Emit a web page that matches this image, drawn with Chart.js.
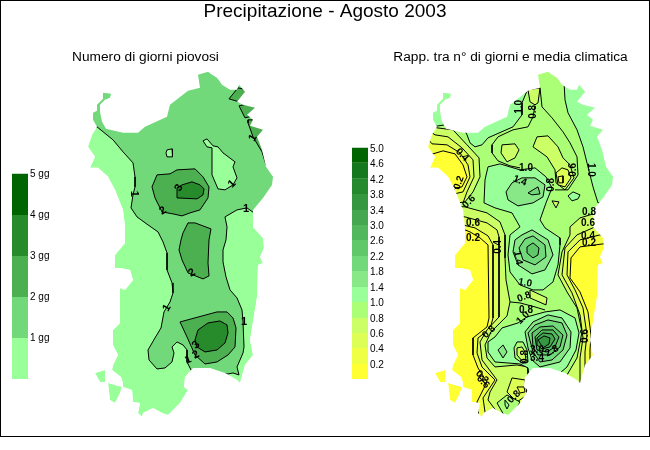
<!DOCTYPE html>
<html><head><meta charset="utf-8">
<style>html,body{margin:0;padding:0;background:#fff}
#w{position:relative;width:650px;height:450px;overflow:hidden}
canvas{position:absolute;left:0;top:0}
#f{position:absolute;left:0;top:0;width:648px;height:435px;border:1px solid #000;pointer-events:none}</style>
<script src="https://cdn.jsdelivr.net/npm/chart.js@4"></script></head>
<body><div id="w"><canvas id="c" width="650" height="450"></canvas><div id="f"></div></div>
<script>
const titleText = "Precipitazione - Agosto 2003";
const subtitleLeft = "Numero di giorni piovosi";
const subtitleRight = "Rapp. tra n\u00b0 di giorni e media climatica";

// Legends
const leftTicks = ["1 gg","2 gg","3 gg","4 gg","5 gg"];
const leftEdges = [379,338,297,256,215,174];
const leftColors = ["#99FF99","#72D97A","#4CAF50","#278B2C","#006400"];
const rightTicks = ["0.2","0.4","0.6","0.8","1.0","1.4","1.8","2.2","2.6","3.0","3.4","3.8","4.2","4.6","5.0"];
const rightEdges = [379,364,348,333,318,302,287,271,256,240,225,210,194,179,163,148];
const rightColors = ["#FFFF33","#EEFF44","#DDFF55","#CCFF66","#AAFF77","#99FF99","#88E888","#72D97A","#60C868","#52B85C","#45A850","#359840","#258A2D","#15781F","#006400"];

// Island outline (map units, left panel)
const coast = [198,75,208,72,212,75,217,78,222,85,230,90,237,90,239,85,245,92,237,102,243,105,255,108,247,115,253,120,250,126,263,130,257,137,262,150,266,167,273,177,272,185,263,198,253,210,253,227,263,238,264,248,260,257,263,263,258,265,257,297,250,340,253,355,245,365,240,383,237,380,225,373,210,368,193,368,185,377,184,387,188,390,180,403,168,415,162,413,153,408,143,413,142,417,138,413,140,403,133,402,132,390,123,387,123,383,121,377,112,370,113,365,118,355,113,345,113,330,120,323,120,288,125,290,133,280,130,270,120,268,115,268,115,255,125,243,125,227,123,210,115,190,108,177,98,168,90,168,95,157,88,147,92,135,97,127,93,120,93,113,97,111,97,105,103,99,103,93,111,94,110,98,105,100,100,105,100,112,102,122,106,129,123,133,138,133,145,127,167,117,170,105,188,91,200,88];
const isleA = [95,373,105,370,105,382,100,382];
const isleB = [108,383,122,387,120,393,115,403,110,400];

// Left panel contours
const leftL1 = [97,127,113,140,123,152,133,163,135,177,135,187,133,195,131,208,137,217,148,225,158,232,163,242,167,253,167,270,172,283,173,293,170,302,164,312,161,328,155,338,148,350,149,360,157,369,165,368,172,362,174,353,172,347,177,342,183,345,187,350,187,357,187,362,192,372,197,375,217,375,223,374,228,374,233,373,239,375,237,367,243,353,244,347,243,322,242,310,237,298,230,290,226,277,223,262,223,250,226,240,227,227,225,217,237,210,247,208,254,213,300,213,300,50,70,50,70,127,90,127];
const leftHole1 = [167,150,172,149,173,153,172,157,167,157,166,153];
const leftHole2 = [203,141,207,139,213,146,218,147,223,153,235,162,233,167,237,178,233,185,225,190,218,189,212,175,212,148,207,147];
const left2a = [157,175,170,174,177,170,195,169,203,177,209,187,208,198,200,210,190,213,182,216,173,214,162,212,155,198,152,187];
const left3a = [177,188,182,185,192,182,200,185,204,189,203,195,197,199,177,198];
const left2b = [188,223,195,223,211,229,209,240,208,263,209,276,203,279,188,273,182,260,179,250,181,240,183,233];
const left2c = [180,322,217,312,227,312,233,318,236,328,235,347,228,355,217,362,205,364,195,355,187,337];
const left3c = [195,340,198,330,208,323,220,321,227,325,228,333,225,343,217,350,205,352,197,347];
const leftNE1 = [238,88,229,99,239,102,247,90];
const leftNE2 = [239,106,245,118,258,115,257,102];
const leftNE3 = [248,123,253,137,262,152,266,165,280,165,280,120,248,120];
const leftLabelText = ["1","3","2","1","1","1","2","1","1","3","2","1"];
const leftLabelX = [134,179,163,253,232,246,192,167,244,196,196,188];
const leftLabelY = [194,188,211,138,184,209,273,308,322,345,355,360];
const leftLabelRot = [90,-60,-30,-60,-45,0,-30,-60,0,-45,-30,-20];

// Right panel contours
const r02 = [420,150,433,154,443,151,455,154,463,165,467,177,462,187,456,188,445,200,450,228,465,230,470,232,480,238,488,245,489,318,487,327,473,338,473,355,478,368,487,382,477,402,478,412,478,430,590,430,590,350,591,335,588,312,580,292,570,278,571,258,580,247,603,244,630,244,630,60,420,60];
const r04 = [420,130,432,144,447,145,460,153,468,165,470,177,463,192,450,195,450,222,475,228,488,236,493,245,493,318,490,329,478,338,477,353,482,367,495,380,483,398,485,412,485,430,585,430,585,352,587,335,583,308,575,290,567,275,568,252,580,240,600,235,630,235,630,60,420,60];
const r06 = [420,125,435,135,448,137,462,148,473,160,474,177,467,192,463,203,450,205,450,215,465,217,487,223,497,230,499,237,499,248,499,317,487,330,480,342,482,360,497,380,490,392,488,400,497,412,497,430,580,430,580,358,583,338,580,315,572,293,562,275,565,248,577,235,595,227,630,225,630,60,420,60];
const r08 = [420,120,437,128,453,130,467,145,479,158,480,177,473,192,465,202,450,204,450,206,465,207,487,213,500,222,505,235,505,258,506,280,510,302,507,316,491,332,485,345,487,358,495,367,517,365,528,367,528,385,567,385,567,375,577,358,582,332,577,308,567,292,558,275,562,252,570,235,570,227,580,218,600,212,630,212,630,60,420,60];
const r06p1 = [533,147,537,137,548,136,558,147,563,158,570,165,574,178,565,190,556,183,555,170,547,157];
const r04p1 = [556,173,562,168,568,170,571,178,565,187,558,185];
const r02p1 = [558,177,563,176,563,183,559,183];
const r06p2 = [502,145,515,144,519,150,515,158,507,162,501,153];
const r06p3 = [528,90,540,88,538,103,535,105,530,102];
const r06p4 = [530,290,547,298,546,305,530,298];
const r06p5 = [552,201,559,202,556,208];
const r10p1 = [568,196,573,192,580,195,578,199,572,201];
const r10ne = [564,82,565,100,568,113,577,130,583,147,588,167,593,187,598,203,640,203,640,60,564,60];
const r10nw = [527,91,522,103,522,115,513,127,488,138,482,145,475,147,470,143,467,135,462,125,445,125,432,127,425,127,425,60,527,60];
const r10c = [488,167,500,164,520,170,535,168,546,177,552,188,546,203,540,220,545,228,560,238,560,245,558,265,553,282,543,290,533,290,520,285,510,272,508,255,510,235,520,227,512,213,495,208,484,203,485,180];
const r14a = [506,192,512,183,522,178,535,178,545,185,543,197,533,203,518,206,508,200];
const r18a = [528,193,538,187,540,194,532,195];
const r14b = [532,230,548,240,553,255,545,270,532,274,518,265,513,252,515,240,522,235];
const r18b = [533,236,545,245,546,257,535,265,523,260,519,248,525,239];
const r22b = [533,243,539,248,538,255,533,258,527,253,527,247];
const r10s = [495,337,502,328,518,323,527,317,545,312,560,310,575,318,579,333,576,350,567,367,560,373,555,385,530,385,528,368,520,364,495,362,488,352,488,342];
const r08h = [514,348,517,342,523,342,527,350,528,362,522,363,515,358];
const r06h = [517,348,522,347,525,352,526,361,523,362,517,355];
const r14d = [498,350,503,345,507,352,503,358];
const r14s = [525,332,533,322,548,315,562,318,571,332,570,348,560,362,540,367,532,360,528,348];
const r18s = [528,333,535,325,548,320,562,323,567,335,563,350,552,360,540,362,533,352];
const r22s = [532,333,540,327,553,326,563,335,560,347,550,355,538,355,533,347];
const r26s = [535,337,542,330,553,330,559,337,555,347,547,352,537,350];
const r30s = [537,338,543,333,552,334,555,339,550,347,542,349,537,345];
const r34s = [538,340,544,336,550,338,549,344,543,348];
const r04t = [512,378,525,380,527,395,517,402,507,392];
const r02t = [517,387,524,387,525,392,520,393];
const r08t = [497,403,507,395,520,402,513,415,505,417];
const r10t = [505,400,509,405,507,409,505,405];
const lineA = [535,106,533,117,528,127,513,130,498,137,492,145,492,153,498,161,510,166,520,168];
const lineB = [540,88,542,107,552,118,563,132,570,143,577,157,578,175,568,190,555,190];
const lineC = [510,302,520,303,535,307,545,310];
const rightLabelText = ["1.0","0.8","0.4","0.2","0.6","1.0","1.4","0.8","0.6","1.0","0.8","0.6","0.4","0.6","0.2","0.4","1.4","1.0","0.8","0.8","1.0","0.8","0.6","2.8","0.8","3.0","3.4","0.8","0.2","0.6","0.2"];
const rightLabelX = [519,533,462,459,469,526,520,551,573,591,589,588,588,473,473,498,518,525,524,526,523,489,585,552,525,537,537,514,482,483,589];
const rightLabelY = [107,112,155,183,202,168,181,185,170,170,212,223,236,223,238,247,258,283,297,310,318,332,336,351,357,350,358,397,377,382,243];
const rightLabelRot = [-90,-90,45,-70,-45,0,20,-90,-90,90,0,0,0,0,0,-90,80,10,-20,0,-45,-45,-90,-30,-90,0,0,-45,45,45,0];

const pts = a => { const o=[]; for(let i=0;i<a.length;i+=2) o.push({x:a[i],y:a[i+1]}); return o; };
const poly = (a,color,line=true) => { const p=pts(a); p.push(p[0]);
  return {data:p,showLine:true,fill:'shape',backgroundColor:color,borderColor:line?'#000':'rgba(0,0,0,0)',borderWidth:1,pointRadius:0,tension:0}; };
const stroke = a => ({data:pts(a),showLine:true,fill:false,borderColor:'#000',borderWidth:1,pointRadius:0,tension:0});
const shift = (a,dx) => a.map((v,i)=> i%2===0 ? v+dx : v);
const band = (x0,x1,y0,y1,c) => poly([x0,y0,x1,y0,x1,y1,x0,y1],c,false);
function mask(dx,x0,x1,y0,y1){
  const a=shift(coast,dx), b=shift(isleA,dx), c=shift(isleB,dx), sx=a[0], sy=a[1];
  const r=[sx,y0,x0,y0,x0,y1,x1,y1,x1,y0,sx,y0,...a,sx,sy,...b,b[0],b[1],sx,sy,...c,c[0],c[1],sx,sy];
  return poly(r,'#fff',false);
}
const C = rightColors;
const paint = [
  // left panel
  poly(coast,leftColors[0],false), poly(isleA,leftColors[0],false), poly(isleB,leftColors[0],false),
  poly(leftL1,leftColors[1]), poly(leftHole1,leftColors[0]), poly(leftHole2,leftColors[0]),
  poly(left2a,leftColors[2]), poly(left3a,leftColors[3]), poly(left2b,leftColors[2]),
  poly(left2c,leftColors[2]), poly(left3c,leftColors[3]),
  poly(leftNE1,leftColors[2]), poly(leftNE2,leftColors[2]), poly(leftNE3,leftColors[2]),
  mask(0,60,305,45,435),
  // right panel
  poly(shift(coast,340),C[0],false), poly(shift(isleA,340),C[0],false), poly(shift(isleB,340),C[0],false),
  poly(r02,C[1]), poly(r04,C[2]), poly(r06,C[3]), poly(r08,C[4]),
  poly(r06p1,C[3]), poly(r04p1,C[2]), poly(r02p1,C[1]), poly(r06p2,C[3]), poly(r06p3,C[3]), poly(r06p4,C[3]), poly(r06p5,C[3]), poly(r10p1,C[5]),
  poly(r10ne,C[5]), poly(r10nw,C[5]), poly(r10c,C[5]), poly(r14a,C[6]), poly(r18a,C[7]),
  poly(r14b,C[6]), poly(r18b,C[7]), poly(r22b,C[8]),
  poly(r10s,C[5]), poly(r08h,C[4]), poly(r06h,C[3]), poly(r14d,C[6]),
  poly(r14s,C[6]), poly(r18s,C[7]), poly(r22s,C[8]), poly(r26s,C[9]), poly(r30s,C[10]), poly(r34s,C[11]),
  poly(r04t,C[2]), poly(r02t,C[1]), poly(r08t,C[4]), poly(r10t,C[5]),
  stroke(lineA), stroke(lineB), stroke(lineC),
  mask(340,410,645,45,435)
];
leftColors.forEach((c,i)=>paint.push(band(12,28,leftEdges[i],leftEdges[i+1],c)));
rightColors.forEach((c,i)=>paint.push(band(352,368,rightEdges[i],rightEdges[i+1],c)));

const textPlugin = { id:'mapText', afterDatasetsDraw(chart){
  const {ctx,scales:{x,y}} = chart;
  const put=(t,px,py,font,align,rot)=>{ ctx.save(); ctx.translate(x.getPixelForValue(px),y.getPixelForValue(py));
    if(rot) ctx.rotate(rot*Math.PI/180); ctx.font=font; ctx.textAlign=align; ctx.textBaseline='middle'; ctx.fillStyle='#000'; ctx.fillText(t,0,0); ctx.restore(); };
  const sans='"Liberation Sans"';
  put(subtitleLeft,145.5,57,'13.7px '+sans,'center');
  put(subtitleRight,510.5,57,'13.7px '+sans,'center');
  leftTicks.forEach((t,i)=>put(t,30,leftEdges[i+1],'10px '+sans,'left'));
  rightTicks.forEach((t,i)=>put(t,370,rightEdges[i+1]+1,'10px '+sans,'left'));
  leftLabelText.forEach((t,i)=>put(t,leftLabelX[i],leftLabelY[i],'bold 11px '+sans,'center',leftLabelRot[i]));
  rightLabelText.forEach((t,i)=>put(t,rightLabelX[i],rightLabelY[i],'bold 10px '+sans,'center',rightLabelRot[i]));
}};

new Chart(document.getElementById('c'),{
  type:'scatter',
  data:{datasets:paint.slice().reverse()},
  options:{responsive:false,animation:false,devicePixelRatio:1,layout:{padding:0},
    plugins:{legend:{display:false},tooltip:{enabled:false},
      title:{display:true,text:titleText,color:'#000',font:{family:'"Liberation Sans"',size:19,weight:'normal',lineHeight:1.2},padding:{top:0,bottom:0}}},
    scales:{x:{type:'linear',display:false,min:0,max:650},y:{type:'linear',display:false,min:23,max:450,reverse:true}}
  },
  plugins:[textPlugin]
});
</script></body></html>
